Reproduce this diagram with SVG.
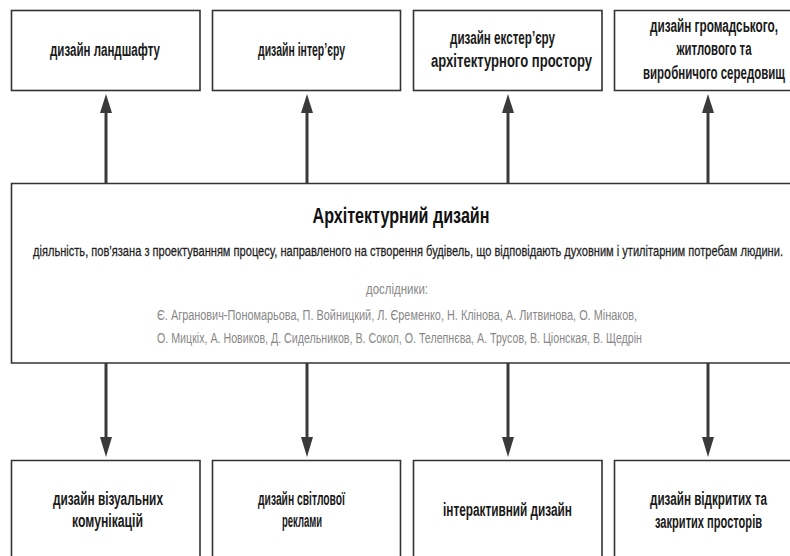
<svg xmlns="http://www.w3.org/2000/svg" width="790" height="556" viewBox="0 0 790 556">
<style>
.box{fill:#fff;stroke:#333;stroke-width:1.6}
.lbl{font-family:"Liberation Sans",Arial,sans-serif;font-weight:bold;font-size:18px;fill:#1a1a1a;text-anchor:middle}
.ttl{font-family:"Liberation Sans",Arial,sans-serif;font-weight:bold;font-size:22px;fill:#111;text-anchor:middle}
.sub{font-family:"Liberation Sans",Arial,sans-serif;font-size:14.5px;fill:#1e1e1e;text-anchor:middle;stroke:#1e1e1e;stroke-width:0.25}
.gry{font-family:"Liberation Sans",Arial,sans-serif;font-size:14.5px;fill:#888;text-anchor:middle}
.con{stroke:#3a3a3a;stroke-width:3;fill:none}
.hd{fill:#3a3a3a}
</style>
<rect width="790" height="556" fill="#fff"/>
<g id="connectors">
<line class="con" x1="106" y1="183" x2="106" y2="110"/>
<line class="con" x1="307" y1="183" x2="307" y2="110"/>
<line class="con" x1="508" y1="183" x2="508" y2="110"/>
<line class="con" x1="708" y1="183" x2="708" y2="110"/>
<polygon class="hd" points="106,94 100,113 112,113"/>
<polygon class="hd" points="307,94 301,113 313,113"/>
<polygon class="hd" points="508,94 502,113 514,113"/>
<polygon class="hd" points="708,94 702,113 714,113"/>
<line class="con" x1="106" y1="363" x2="106" y2="440"/>
<line class="con" x1="307" y1="363" x2="307" y2="440"/>
<line class="con" x1="508" y1="363" x2="508" y2="440"/>
<line class="con" x1="708" y1="363" x2="708" y2="440"/>
<polygon class="hd" points="106,457 100,437 112,437"/>
<polygon class="hd" points="307,457 301,437 313,437"/>
<polygon class="hd" points="508,457 502,437 514,437"/>
<polygon class="hd" points="708,457 702,437 714,437"/>
</g>
<g id="top1"><rect class="box" x="11.5" y="10.5" width="188.5" height="80"/>
<text class="lbl" transform="translate(105,56) scale(0.68,1)" textLength="161.8" lengthAdjust="spacingAndGlyphs">дизайн ландшафту</text></g>
<g id="top2"><rect class="box" x="212.5" y="10.5" width="188" height="80"/>
<text class="lbl" transform="translate(301.5,56) scale(0.68,1)" textLength="127.9" lengthAdjust="spacingAndGlyphs">дизайн інтер’єру</text></g>
<g id="top3"><rect class="box" x="413.5" y="10.5" width="188.5" height="80"/>
<text class="lbl" transform="translate(502.5,44) scale(0.68,1)" textLength="154.4" lengthAdjust="spacingAndGlyphs">дизайн екстер’єру</text>
<text class="lbl" transform="translate(511.5,67) scale(0.68,1)" textLength="236.8" lengthAdjust="spacingAndGlyphs">архітектурного простору</text></g>
<g id="top4"><path class="box" d="M790,10.5 H614.5 V90.5 H790"/>
<text class="lbl" transform="translate(714,32) scale(0.66,1)" textLength="193.9" lengthAdjust="spacingAndGlyphs">дизайн громадського,</text>
<text class="lbl" transform="translate(714,55) scale(0.68,1)" textLength="110.3" lengthAdjust="spacingAndGlyphs">житлового та</text>
<text class="lbl" transform="translate(714,79) scale(0.6,1)" textLength="236.7" lengthAdjust="spacingAndGlyphs">виробничого середовищ</text></g>
<g id="main"><path class="box" d="M790,183.5 H11.5 V363 H790"/>
<text class="ttl" transform="translate(401,223) scale(0.72,1)" textLength="245.8" lengthAdjust="spacingAndGlyphs">Архітектурний дизайн</text>
<text class="sub" transform="translate(408,256) scale(0.76,1)" textLength="986.8" lengthAdjust="spacingAndGlyphs">діяльність, пов’язана з проектуванням процесу, направленого на створення будівель, що відповідають духовним і утилітарним потребам людини.</text>
<text class="gry" transform="translate(397,294) scale(0.73,1)" textLength="84.9" lengthAdjust="spacingAndGlyphs">дослідники:</text>
<text class="gry" transform="translate(397,320) scale(0.76,1)" textLength="631.6" lengthAdjust="spacingAndGlyphs">Є. Агранович-Пономарьова, П. Войницкий, Л. Єременко, Н. Клінова, А. Литвинова, О. Мінаков,</text>
<text class="gry" transform="translate(399.5,343) scale(0.76,1)" textLength="638.2" lengthAdjust="spacingAndGlyphs">О. Мицкіх, А. Новиков, Д. Сидельников, В. Сокол, О. Телепнєва, А. Трусов, В. Ціонская, В. Щедрін</text></g>
<g id="bot1"><path class="box" d="M11.5,556 V460.5 H200 V556"/>
<text class="lbl" transform="translate(108,505) scale(0.68,1)" textLength="161.8" lengthAdjust="spacingAndGlyphs">дизайн візуальних</text>
<text class="lbl" transform="translate(107.5,527) scale(0.68,1)" textLength="104.4" lengthAdjust="spacingAndGlyphs">комунікацій</text></g>
<g id="bot2"><path class="box" d="M212.5,556 V460.5 H400.5 V556"/>
<text class="lbl" transform="translate(301.5,505) scale(0.68,1)" textLength="127.9" lengthAdjust="spacingAndGlyphs">дизайн світлової</text>
<text class="lbl" transform="translate(302,527) scale(0.68,1)" textLength="58.8" lengthAdjust="spacingAndGlyphs">реклами</text></g>
<g id="bot3"><path class="box" d="M413.5,556 V460.5 H602 V556"/>
<text class="lbl" transform="translate(507.5,516) scale(0.68,1)" textLength="189.7" lengthAdjust="spacingAndGlyphs">інтерактивний дизайн</text></g>
<g id="bot4"><path class="box" d="M614.5,556 V460.5 H790"/>
<text class="lbl" transform="translate(708.5,505) scale(0.68,1)" textLength="172.1" lengthAdjust="spacingAndGlyphs">дизайн відкритих та</text>
<text class="lbl" transform="translate(708.5,528) scale(0.68,1)" textLength="157.4" lengthAdjust="spacingAndGlyphs">закритих просторів</text></g>
</svg>
